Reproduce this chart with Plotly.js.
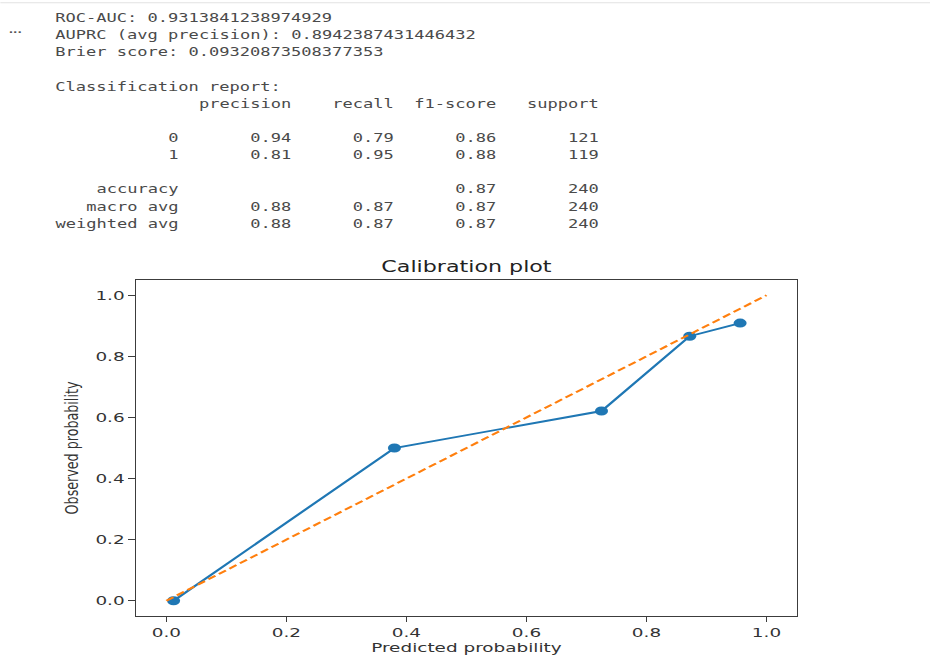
<!DOCTYPE html>
<html>
<head>
<meta charset="utf-8">
<script src="https://cdn.plot.ly/plotly-3.0.1.min.js"></script>
<style>
  html, body { margin: 0; padding: 0; background: #ffffff; overflow: hidden; }
  #wrap { width: 641px; height: 660px; transform: scaleX(1.45086); transform-origin: 0 0; }
</style>
</head>
<body>
<div id="wrap"></div>
<script>
// ---- data ----
const metricNames = ["ROC-AUC", "AUPRC (avg precision)", "Brier score"];
const metricValues = ["0.9313841238974929", "0.8942387431446432", "0.09320873508377353"];

const reportHeaders = ["precision", "recall", "f1-score", "support"];
const reportClasses = ["0", "1"];
const reportPrecision = [0.94, 0.81];
const reportRecall = [0.79, 0.95];
const reportF1 = [0.86, 0.88];
const reportSupport = [121, 119];
const accuracyValue = 0.87;
const accuracySupport = 240;
const avgLabels = ["macro avg", "weighted avg"];
const avgPrecision = [0.88, 0.88];
const avgRecall = [0.87, 0.87];
const avgF1 = [0.87, 0.87];
const avgSupport = [240, 240];

const predictedProb = [0.012, 0.380, 0.725, 0.872, 0.956];
const observedProb = [0.0, 0.500, 0.621, 0.866, 0.909];
const diagX = [0, 1];
const diagY = [0, 1];

const xTicks = [0.0, 0.2, 0.4, 0.6, 0.8, 1.0];
const yTicks = [0.0, 0.2, 0.4, 0.6, 0.8, 1.0];

// ---- layout geometry (plot space is stretched horizontally by CSS) ----
const W = 641, H = 660, SX = 930 / 641;
const M = { l: 136 / SX, r: W - 796 / SX, t: 279.7, b: H - 616.3 };
const PW = W - M.l - M.r, PH = H - M.t - M.b;
const px2x = px => (px / SX - M.l) / PW;      // reference pixel x -> paper x
const py2y = py => (H - M.b - py) / PH;       // reference pixel y -> paper y

// ---- build report text lines (sklearn formatting) ----
const pad = (s, n) => String(s).padStart(n, " ");
const width = 12;
const lines = [];
metricNames.forEach((n, i) => lines.push([i, n + ": " + metricValues[i]]));
lines.push([4, "Classification report:"]);
lines.push([5, pad("", width) + " " + reportHeaders.map(h => " " + pad(h, 9)).join("")]);
reportClasses.forEach((c, i) => lines.push([7 + i,
  pad(c, width) + " " + " " + pad(reportPrecision[i].toFixed(2), 9) + " " + pad(reportRecall[i].toFixed(2), 9) +
  " " + pad(reportF1[i].toFixed(2), 9) + " " + pad(reportSupport[i], 9)]));
lines.push([10, pad("accuracy", width) + " " + " " + pad("", 9) + " " + pad("", 9) + " " +
  pad(accuracyValue.toFixed(2), 9) + " " + pad(accuracySupport, 9)]);
avgLabels.forEach((a, i) => lines.push([11 + i,
  pad(a, width) + " " + " " + pad(avgPrecision[i].toFixed(2), 9) + " " + pad(avgRecall[i].toFixed(2), 9) +
  " " + pad(avgF1[i].toFixed(2), 9) + " " + pad(avgSupport[i], 9)]));

const annotations = lines.map(([k, txt]) => ({
  text: txt.replace(/ /g, "\u00a0"),
  xref: "paper", yref: "paper",
  x: px2x(54), y: py2y(17.2 + 17.17 * k),
  xanchor: "left", yanchor: "middle",
  showarrow: false, borderpad: 0,
  font: { family: "DejaVu Sans Mono", size: 11.75, color: "#4a4a4a" }
}));
annotations.push({
  text: "...", xref: "paper", yref: "paper",
  x: px2x(15.5), y: py2y(29.5), xanchor: "center", yanchor: "middle",
  showarrow: false, borderpad: 0,
  font: { family: "DejaVu Sans", size: 8, color: "#555555", weight: "bold" }
});

const shapes = [{
  type: "line", xref: "paper", yref: "paper",
  x0: px2x(0), x1: px2x(930), y0: py2y(2), y1: py2y(2),
  line: { color: "#e2e2e2", width: 1 }
}];

const traces = [
  {
    x: predictedProb, y: observedProb, type: "scatter", mode: "lines+markers",
    line: { color: "#1f77b4", width: 1.9 },
    marker: { color: "#1f77b4", size: 9 },
    hoverinfo: "skip"
  },
  {
    x: diagX, y: diagY, type: "scatter", mode: "lines",
    line: { color: "#ff7f0e", width: 1.9, dash: "6px,3px" },
    hoverinfo: "skip"
  }
];

const axisCommon = {
  range: [-0.05, 1.05], showgrid: false, zeroline: false,
  showline: true, mirror: true, linecolor: "#3c3c3c", linewidth: 1,
  ticks: "outside", ticklen: 4.5, tickwidth: 1, tickcolor: "#3c3c3c",
  tickfont: { family: "DejaVu Sans", size: 12.7, color: "#333333" },
  tickformat: ".1f", tickmode: "array", automargin: false, fixedrange: true
};

const layout = {
  width: W, height: H,
  margin: M,
  paper_bgcolor: "#ffffff", plot_bgcolor: "#ffffff",
  showlegend: false,
  title: {
    text: "Calibration plot",
    font: { family: "DejaVu Sans", size: 15.3, color: "#222222" },
    x: 0.5, xref: "paper", xanchor: "center",
    y: 1 - 267 / H, yref: "container", yanchor: "middle"
  },
  xaxis: Object.assign({}, axisCommon, {
    tickvals: xTicks,
    title: { text: "Predicted probability", standoff: 4,
             font: { family: "DejaVu Sans", size: 12.7, color: "#333333" } }
  }),
  yaxis: Object.assign({}, axisCommon, {
    tickvals: yTicks,
    title: { text: "Observed probability", standoff: 8,
             font: { family: "DejaVu Sans", size: 12.7, color: "#333333" } }
  }),
  annotations: annotations,
  shapes: shapes
};

Plotly.newPlot("wrap", traces, layout, { displayModeBar: false, staticPlot: true });
</script>
</body>
</html>
